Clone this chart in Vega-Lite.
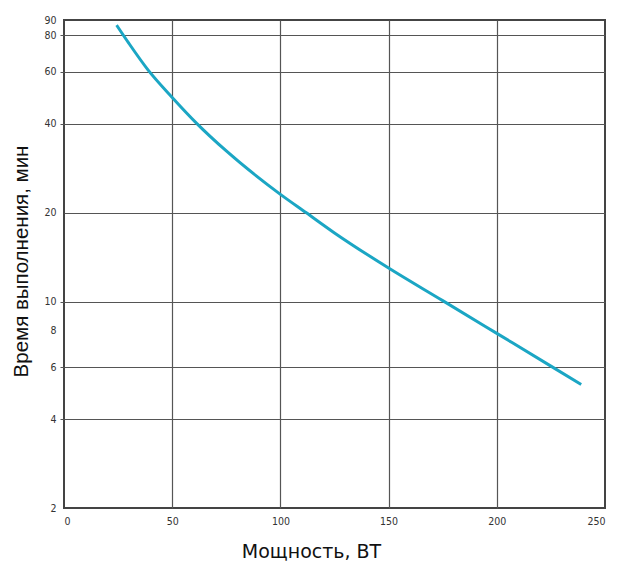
{
  "$schema": "https://vega.github.io/schema/vega-lite/v6.json",
  "autosize": "none",
  "width": 541,
  "height": 488,
  "padding": {"left": 64, "top": 20, "right": 24, "bottom": 54},
  "background": "white",
  "config": {
    "view": {"stroke": "#444", "strokeWidth": 2},
    "axis": {
      "labelFont": "DejaVu Sans Condensed",
      "labelFontSize": 10.5,
      "labelColor": "#333",
      "gridColor": "#555",
      "gridWidth": 1.2,
      "gridOpacity": 1,
      "domain": false,
      "tickColor": "#555",
      "tickSize": 4
    }
  },
  "data": {
    "values": [
      {"power": 24.3, "time": 86.5},
      {"power": 30, "time": 75},
      {"power": 38.8, "time": 61},
      {"power": 50, "time": 49.2},
      {"power": 61.3, "time": 40.2},
      {"power": 75, "time": 32.4},
      {"power": 100, "time": 23.1},
      {"power": 112, "time": 20},
      {"power": 125, "time": 17.1},
      {"power": 150, "time": 13.0},
      {"power": 175, "time": 10.08},
      {"power": 200, "time": 7.81},
      {"power": 225, "time": 6.05},
      {"power": 239, "time": 5.24}
    ]
  },
  "mark": {"type": "line", "color": "#1ba6c4", "strokeWidth": 3, "interpolate": "monotone"},
  "encoding": {
    "x": {
      "field": "power",
      "type": "quantitative",
      "scale": {"domain": [0, 250], "nice": false},
      "axis": {
        "values": [0, 50, 100, 150, 200, 250],
        "ticks": false,
        "labelPadding": 8,
        "gridOpacity": {"condition": {"test": "datum.value == 0 || datum.value == 250", "value": 0}, "value": 1},
        "title": "Мощность, ВТ",
        "titleFont": "DejaVu Sans",
        "titleFontSize": 19,
        "titleFontWeight": "normal",
        "titleColor": "#111",
        "titleX": 247,
        "titleY": 49,
        "titleBaseline": "alphabetic"
      }
    },
    "y": {
      "field": "time",
      "type": "quantitative",
      "scale": {"type": "log", "domain": [2, 90], "nice": false},
      "axis": {
        "values": [2, 4, 6, 8, 10, 20, 40, 60, 80, 90],
        "labelPadding": 4,
        "gridOpacity": {"condition": {"test": "datum.value == 2 || datum.value == 8 || datum.value == 90", "value": 0}, "value": 1},
        "tickOpacity": {"condition": {"test": "datum.value == 2 || datum.value == 8 || datum.value == 90 || datum.value == 20", "value": 0}, "value": 1},
        "title": "Время выполнения, мин",
        "titleFont": "Liberation Sans",
        "titleFontSize": 20.5,
        "titleFontWeight": "normal",
        "titleColor": "#111",
        "titleX": -37,
        "titleY": 241,
        "titleBaseline": "alphabetic"
      }
    }
  }
}
